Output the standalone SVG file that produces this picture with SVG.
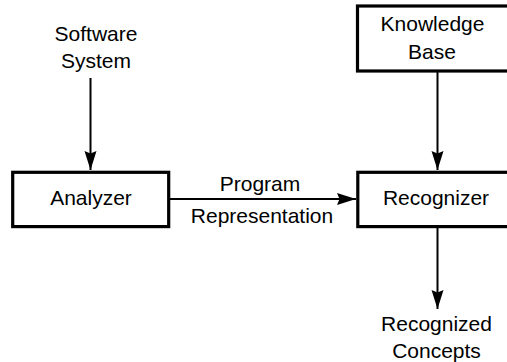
<svg xmlns="http://www.w3.org/2000/svg" width="507" height="362" viewBox="0 0 507 362">
  <style>
    .box { fill: #ffffff; stroke: #000000; stroke-width: 3.2; }
    .edge { fill: none; stroke: #000000; stroke-width: 2; }
    .lbl { font-family: "Liberation Sans", Arial, sans-serif; font-size: 21px; fill: #000000; text-anchor: middle; }
  </style>
  <defs>
    <marker id="arrow" markerUnits="userSpaceOnUse" viewBox="0 0 19 13" refX="19" refY="6.5" markerWidth="19" markerHeight="13" orient="auto">
      <path d="M0,0.5 L19,6.5 L0,12.5 L2.5,6.5 Z" fill="#000000"/>
    </marker>
  </defs>
  <rect width="507" height="362" fill="#ffffff"/>

  <g id="connectors">
    <line class="edge" x1="90.5" y1="78" x2="90.5" y2="170" marker-end="url(#arrow)"/>
    <line class="edge" x1="437.5" y1="72" x2="437.5" y2="170" marker-end="url(#arrow)"/>
    <line class="edge" x1="170" y1="199" x2="356" y2="199" marker-end="url(#arrow)"/>
    <line class="edge" x1="437.5" y1="228" x2="437.5" y2="309" marker-end="url(#arrow)"/>
    <text class="lbl" x="260" y="191">Program</text>
    <text class="lbl" x="262" y="223">Representation</text>
  </g>

  <g id="software-system">
    <text class="lbl" x="96" y="41">Software</text>
    <text class="lbl" x="96" y="68">System</text>
  </g>

  <g id="knowledge-base">
    <rect class="box" x="357.5" y="6" width="165" height="65"/>
    <text class="lbl" x="432.5" y="31">Knowledge</text>
    <text class="lbl" x="432" y="58.5">Base</text>
  </g>

  <g id="analyzer">
    <rect class="box" x="12.7" y="172.3" width="156" height="54.3"/>
    <text class="lbl" x="91" y="204.5">Analyzer</text>
  </g>

  <g id="recognizer">
    <rect class="box" x="357.8" y="172.3" width="165" height="54.3"/>
    <text class="lbl" x="436" y="204.5">Recognizer</text>
  </g>

  <g id="recognized-concepts">
    <text class="lbl" x="436.5" y="331">Recognized</text>
    <text class="lbl" x="436.5" y="357.5">Concepts</text>
  </g>
</svg>
